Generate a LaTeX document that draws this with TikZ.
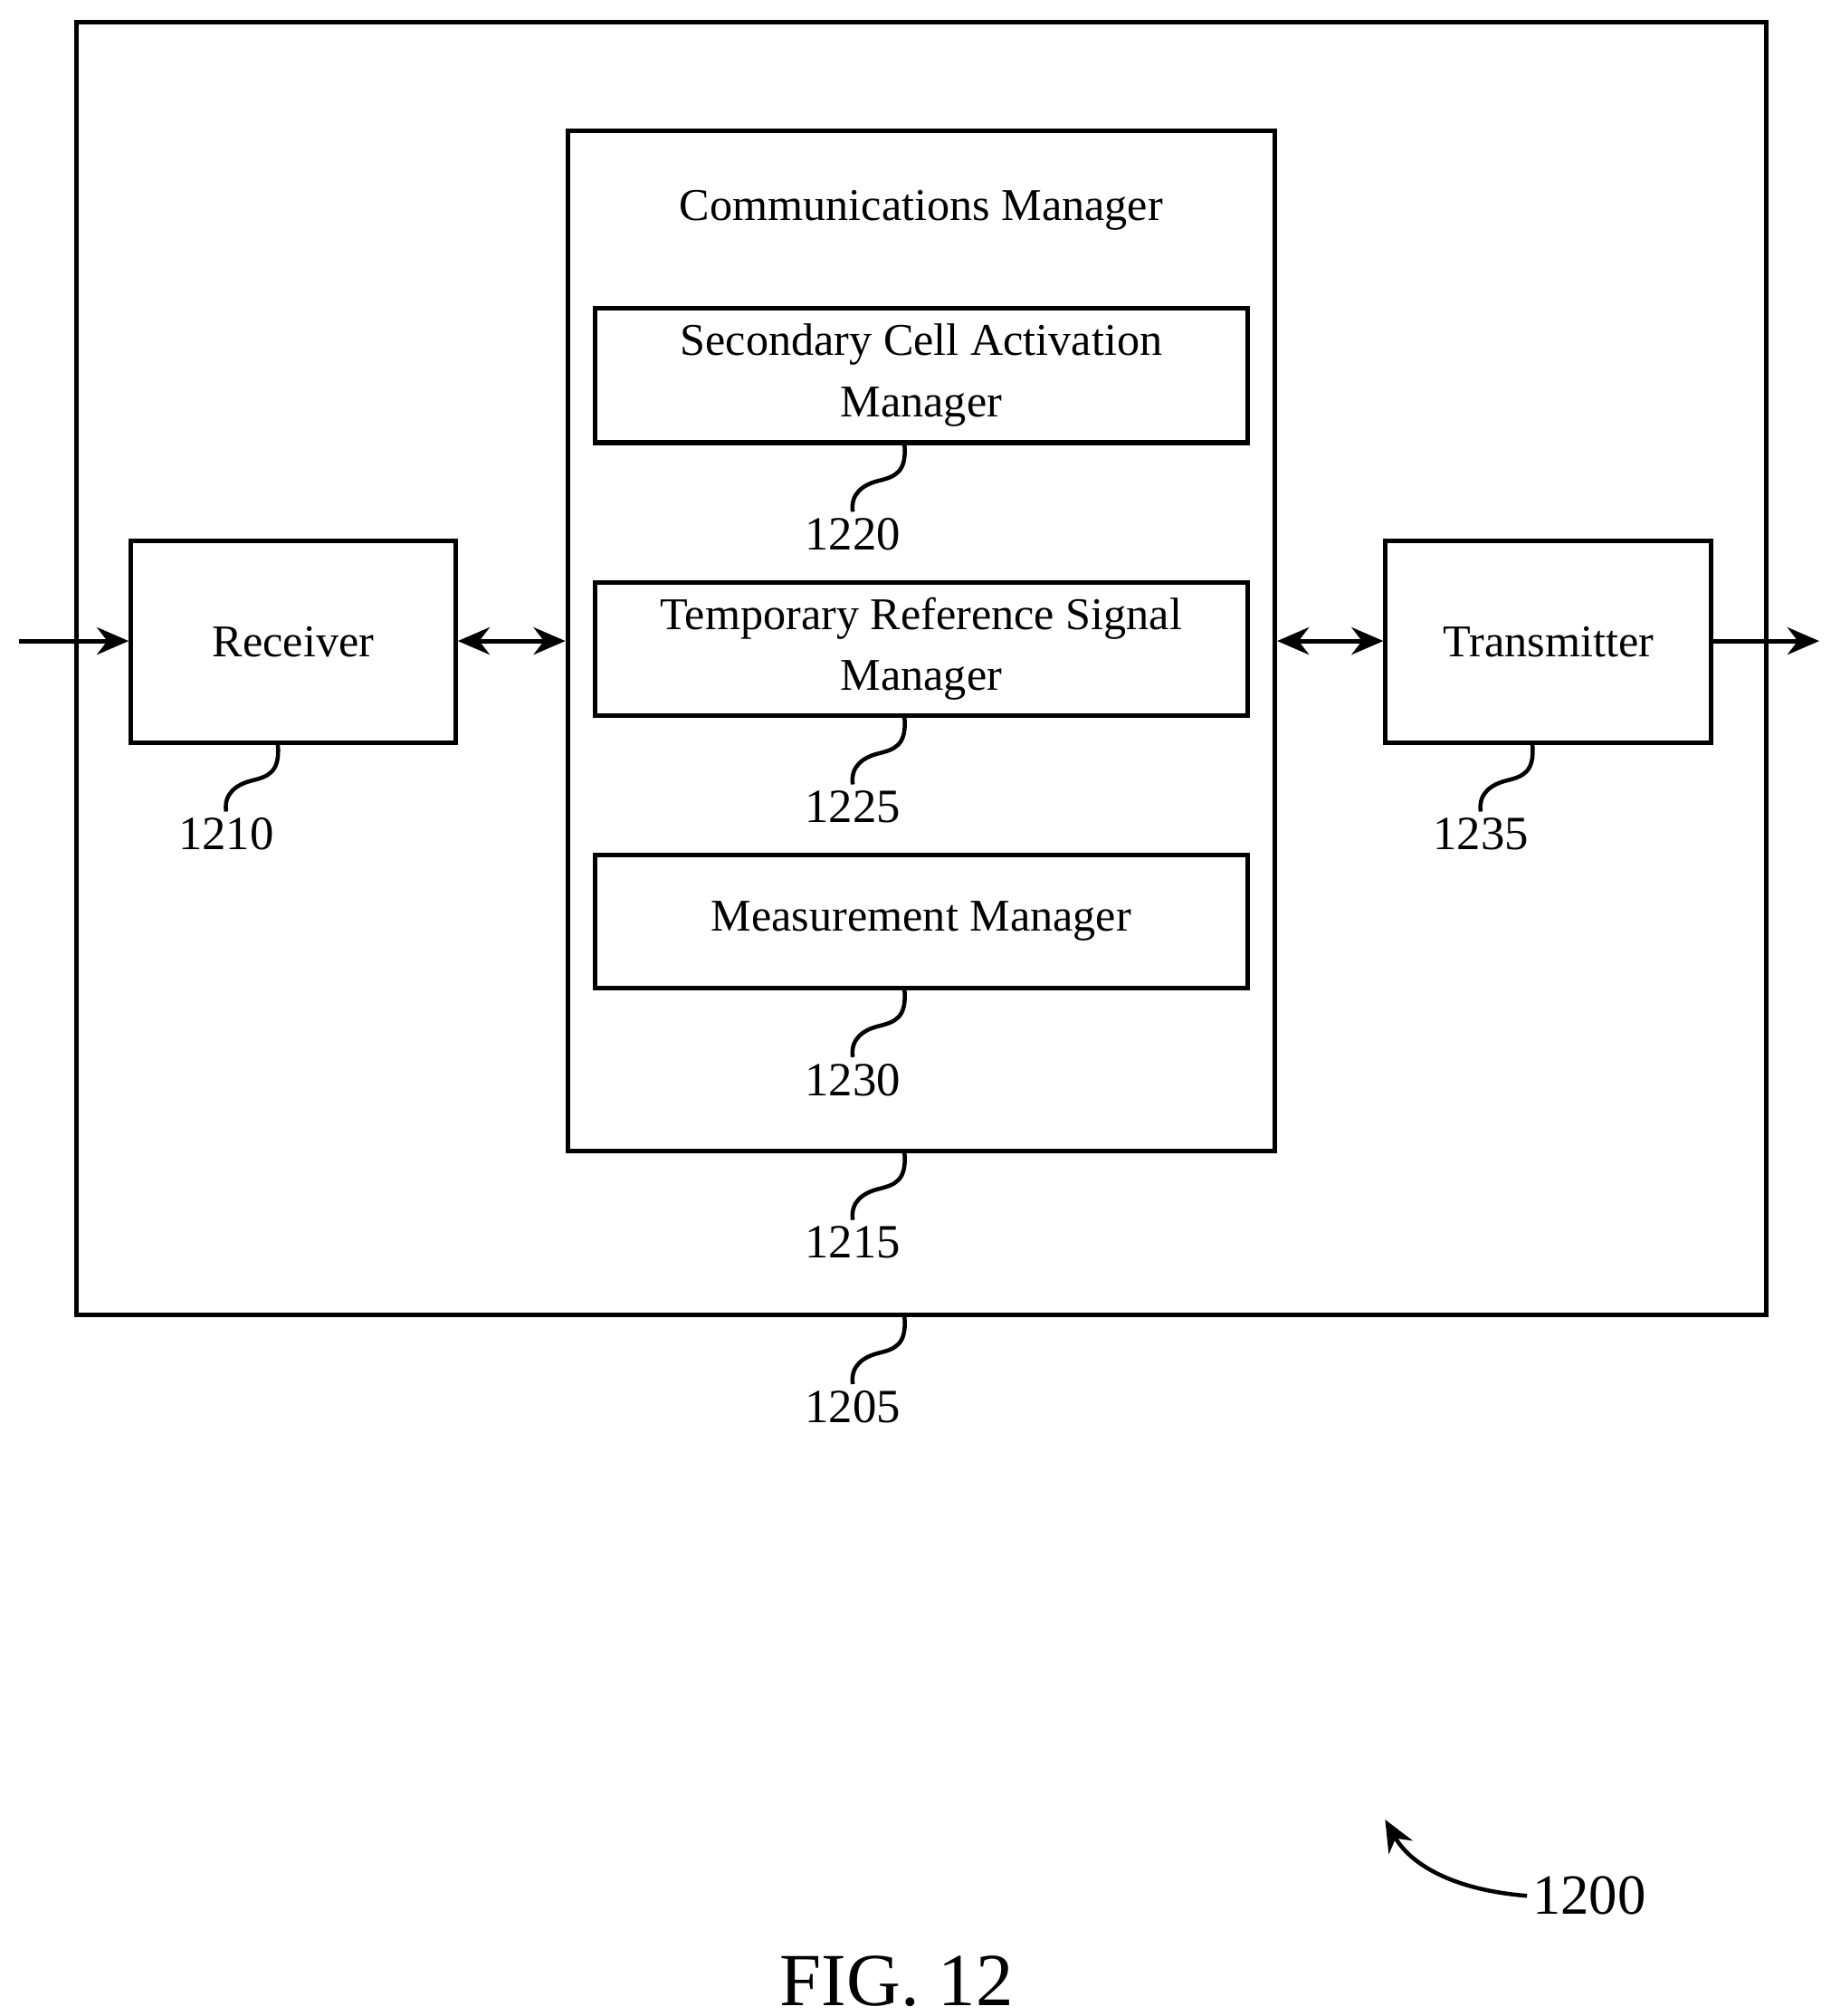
\documentclass[tikz,border=0pt]{standalone}
\usepackage{fontspec}
\setmainfont{Liberation Serif}
\usetikzlibrary{arrows.meta,positioning}
\tikzset{
  blk/.style={draw,line width=1pt,inner sep=0pt,align=center,font=\fontsize{10}{13.5}\selectfont},
  lbl/.style={font=\fontsize{10.5}{12}\selectfont,inner sep=1pt},
  conn/.style={line width=1pt,-{Stealth[length=7pt,width=6pt]}},
  dconn/.style={line width=1pt,{Stealth[length=7pt,width=6pt]}-{Stealth[length=7pt,width=6pt]}},
  squig/.style={line width=0.9pt}
}
\newcommand{\squiggle}[3]{% start coordinate, label node name, text
  \draw[squig] (#1) .. controls +(2,22) and +(12,-3) .. ++(-20,28)
    .. controls +(-12,3) and +(-2,-14) .. ++(-20,24)
    node[lbl,below=0pt] (#2) {#3};}
\begin{document}
\begin{tikzpicture}[x=0.01cm,y=-0.01cm]
\useasboundingbox (0,0) rectangle (1417,1560);
% outer device
\node[blk,minimum width=13.07cm,minimum height=10cm] (dev) at (713,517.5) {};
% communications manager
\node[blk,minimum width=5.47cm,minimum height=7.89cm] (cm) at (713,496) {};
\node[blk,draw=none] (cmtitle) at (713,163) {Communications Manager};
\node[blk,minimum width=5.05cm,minimum height=1.04cm] (sca) at (713,290.5) {Secondary Cell Activation\\Manager};
\node[blk,minimum width=5.05cm,minimum height=1.03cm] (trs) at (713,502) {Temporary Reference Signal\\Manager};
\node[blk,minimum width=5.05cm,minimum height=1.03cm] (meas) at (713,713) {Measurement Manager};
% receiver and transmitter
\node[blk,minimum width=2.51cm,minimum height=1.56cm] (rx) at (227,496.5) {Receiver};
\node[blk,minimum width=2.52cm,minimum height=1.56cm] (tx) at (1198.5,496.5) {Transmitter};
\coordinate (in) at (15,496);
\coordinate (out) at (1408,496);
\draw[conn] (in) -- (rx.west |- in);
\draw[dconn] (rx.east |- in) -- (cm.west |- in);
\draw[dconn] (cm.east |- in) -- (tx.west |- in);
\draw[conn] (tx.east |- in) -- (out);
% reference numerals
\coordinate (s1) at (700,344);  \squiggle{s1}{n1220}{1220}
\coordinate (s2) at (700,555);  \squiggle{s2}{n1225}{1225}
\coordinate (s3) at (700,766);  \squiggle{s3}{n1230}{1230}
\coordinate (s4) at (700,892);  \squiggle{s4}{n1215}{1215}
\coordinate (s5) at (700,1019); \squiggle{s5}{n1205}{1205}
\coordinate (s6) at (215,576);  \squiggle{s6}{n1210}{1210}
\coordinate (s7) at (1186,576); \squiggle{s7}{n1235}{1235}
% figure number
\node[lbl,font=\fontsize{12.5}{15}\selectfont] (n1200) at (1230,1467) {1200};
\coordinate (a1200) at (1072,1408);
\draw[conn,line width=0.9pt] (n1200.west) .. controls (1120,1462) and (1090,1440) .. (a1200);
\node[font=\fontsize{16.5}{20}\selectfont] (fig) at (694,1533) {FIG. 12};
\end{tikzpicture}
\end{document}
